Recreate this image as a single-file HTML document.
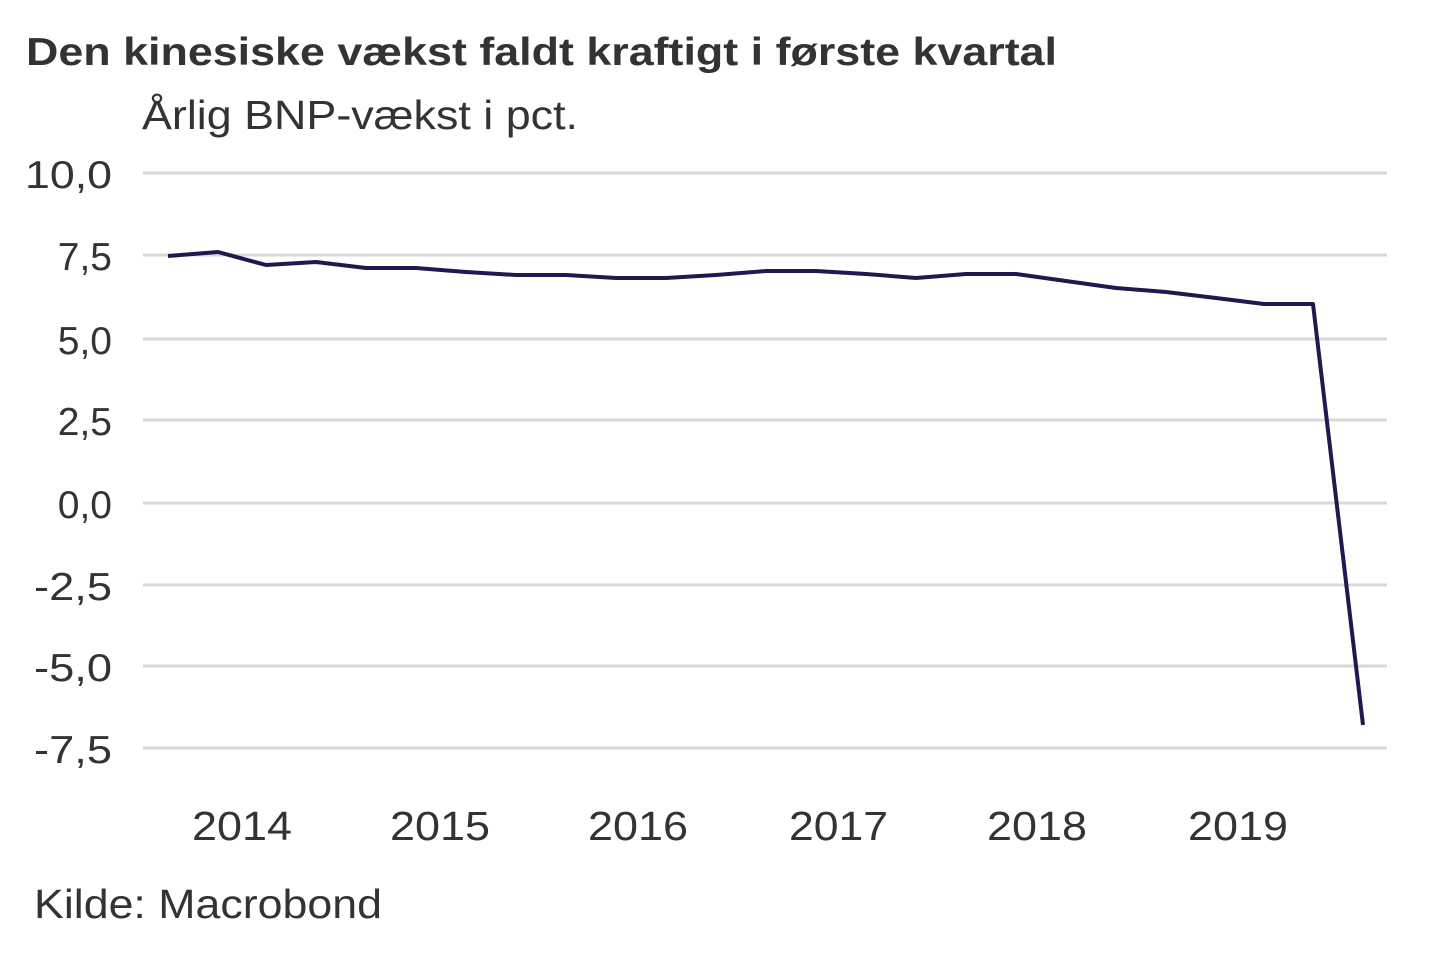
<!DOCTYPE html>
<html><head><meta charset="utf-8"><style>
body{margin:0;background:#fff;width:1440px;height:960px;overflow:hidden}
text{font-family:"Liberation Sans",Arial,sans-serif}
</style></head><body>
<svg width="1440" height="960" viewBox="0 0 1440 960">
<text x="26" y="65" font-size="39" font-weight="bold" fill="#333" textLength="1031" lengthAdjust="spacingAndGlyphs">Den kinesiske vækst faldt kraftigt i første kvartal</text>
<text x="142" y="129" font-size="41" fill="#333" textLength="436" lengthAdjust="spacingAndGlyphs">Årlig BNP-vækst i pct.</text>
<g stroke="#d9d9d9" stroke-width="3">
<line x1="143" x2="1387" y1="173" y2="173"/><line x1="143" x2="1387" y1="255" y2="255"/>
<line x1="143" x2="1387" y1="339" y2="339"/><line x1="143" x2="1387" y1="420" y2="420"/>
<line x1="143" x2="1387" y1="503" y2="503"/><line x1="143" x2="1387" y1="585" y2="585"/>
<line x1="143" x2="1387" y1="666" y2="666"/><line x1="143" x2="1387" y1="748" y2="748"/>
</g>
<g font-size="39" fill="#333" text-anchor="end">
<text x="112" y="188" textLength="87" lengthAdjust="spacingAndGlyphs">10,0</text><text x="112" y="270">7,5</text><text x="112" y="354">5,0</text>
<text x="112" y="435">2,5</text><text x="112" y="518">0,0</text><text x="112" y="600" textLength="78" lengthAdjust="spacingAndGlyphs">-2,5</text>
<text x="112" y="681" textLength="78" lengthAdjust="spacingAndGlyphs">-5,0</text><text x="112" y="763" textLength="78" lengthAdjust="spacingAndGlyphs">-7,5</text>
</g>
<g font-size="41" fill="#333">
<text x="192" y="840" textLength="100" lengthAdjust="spacingAndGlyphs">2014</text><text x="390" y="840" textLength="100" lengthAdjust="spacingAndGlyphs">2015</text><text x="588" y="840" textLength="100" lengthAdjust="spacingAndGlyphs">2016</text>
<text x="789" y="840" textLength="99" lengthAdjust="spacingAndGlyphs">2017</text><text x="987" y="840" textLength="100" lengthAdjust="spacingAndGlyphs">2018</text><text x="1188" y="840" textLength="100" lengthAdjust="spacingAndGlyphs">2019</text>
</g>
<text x="34" y="918" font-size="41" fill="#333" textLength="348" lengthAdjust="spacingAndGlyphs">Kilde: Macrobond</text>
<polyline fill="none" stroke="#1c1a4f" stroke-width="4" stroke-linejoin="round" points="168,256 218,252 266,265 316,262 366,268 416,268 466,272 516,275 566,275 616,278 666,278 716,275 766,271 816,271 866,274 916,278 966,274 1016,274 1066,281 1116,288 1166,292 1216,298 1264,304 1313,304 1363,725"/>
</svg>
</body></html>
